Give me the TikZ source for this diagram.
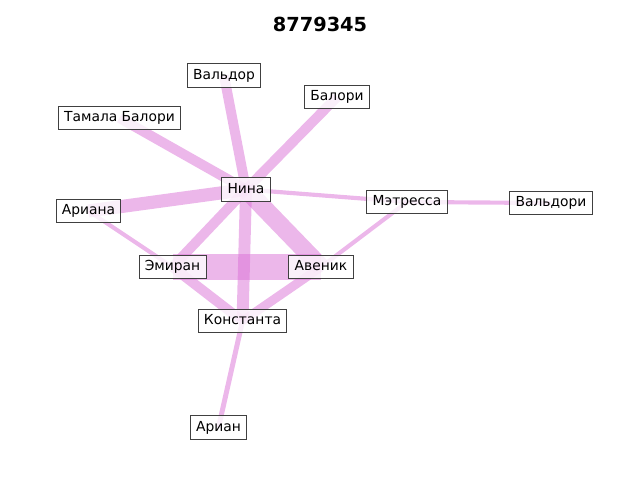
\documentclass[tikz,border=0pt]{standalone}
\usepackage{fontspec}
\setmainfont{DejaVu Sans}
\usetikzlibrary{backgrounds}

\definecolor{edgepink}{RGB}{218,112,214}
\definecolor{boxline}{RGB}{64,64,64}

\tikzset{
  person/.style={draw=boxline, line width=0.7pt, fill=white, fill opacity=0.8,
    text opacity=1, font=\fontsize{10pt}{12pt}\selectfont,
    text height=7.4pt, text depth=2.3pt, inner xsep=4.2pt, inner ysep=3.6pt},
  tie/.style={draw=edgepink, draw opacity=0.5, line width=#1}
}

\begin{document}
\begin{tikzpicture}[x=0.254mm, y=-0.254mm]

    % Fix the frame to the 640x480 canvas
    \useasboundingbox (0,0) rectangle (640,480);

    % Title
    \node (title) at (320,24) {\fontsize{14pt}{16pt}\selectfont\bfseries 8779345};

    % Place the people
    \node [person] (nina)   at (246,189.5) {Нина};
    \node [person] (valdor) at (224,75.5)  {Вальдор};
    \node [person] (balori) at (337,97)    {Балори};
    \node [person] (tamala) at (119.5,118) {Тамала Балори};
    \node [person] (ariana) at (88.5,211)  {Ариана};
    \node [person] (metr)   at (407,202)   {Мэтресса};
    \node [person] (valdri) at (551,203)   {Вальдори};
    \node [person] (emiran) at (172.5,267) {Эмиран};
    \node [person] (avenik) at (321,267)   {Авеник};
    \node [person] (konst)  at (242.5,321) {Константа};
    \node [person] (arian)  at (218.5,427.5) {Ариан};

    % Draw the ties behind the boxes, width by strength
    \begin{scope}[on background layer]
      \foreach \a/\b/\w in {nina/valdor/7.2pt, nina/balori/7.2pt,
          nina/tamala/7.2pt, nina/ariana/9.5pt, nina/metr/3pt,
          nina/emiran/7.2pt, nina/avenik/13pt, nina/konst/8.6pt,
          emiran/avenik/18.7pt, emiran/konst/7.2pt, avenik/konst/6.5pt,
          ariana/emiran/3pt, avenik/metr/3pt, metr/valdri/3pt,
          konst/arian/3.6pt}
        \draw [tie=\w] (\a.center) -- (\b.center);
    \end{scope}
  \end{tikzpicture}
\end{document}
